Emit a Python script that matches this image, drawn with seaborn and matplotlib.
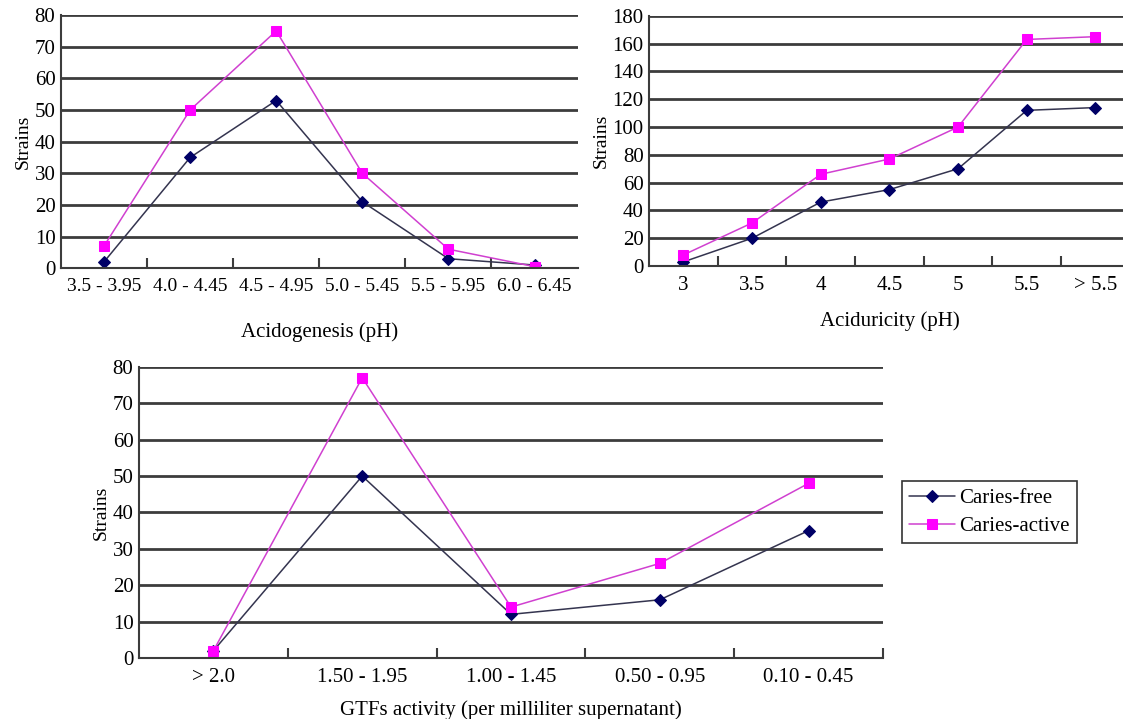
import numpy as np
import pandas as pd
import matplotlib
matplotlib.use("Agg")
import matplotlib.pyplot as plt
import seaborn as sns
from matplotlib.ticker import FixedLocator, MultipleLocator

# ── Data ──────────────────────────────────────────────────────────────────────

acid_cats = ["3.5 - 3.95", "4.0 - 4.45", "4.5 - 4.95", "5.0 - 5.45", "5.5 - 5.95", "6.0 - 6.45"]
acid_free = [2, 35, 53, 21, 3, 1]
acid_active = [7, 50, 75, 30, 6, 0.5]

aciduric_cats = ["3", "3.5", "4", "4.5", "5", "5.5", "> 5.5"]
aciduric_free = [3, 20, 46, 55, 70, 112, 114]
aciduric_active = [8, 31, 66, 77, 100, 163, 165]

gtf_cats = ["> 2.0", "1.50 - 1.95", "1.00 - 1.45", "0.50 - 0.95", "0.10 - 0.45"]
gtf_free = [2, 50, 12, 16, 35]
gtf_active = [2, 77, 14, 26, 48]

SERIES = ["Caries-free", "Caries-active"]

sns.set_theme(style="white")
plt.rcParams["font.family"] = ["Liberation Serif", "DejaVu Serif"]
plt.rcParams["text.color"] = "black"
plt.rcParams["axes.labelcolor"] = "black"
plt.rcParams["xtick.color"] = "black"
plt.rcParams["ytick.color"] = "black"

GRID = "#3c3c3c"
PALETTE = {"Caries-free": "#34344f", "Caries-active": "#d040d0"}
MARKER_COLORS = {"Caries-free": "#000066", "Caries-active": "#ff00ff"}
MARKERS = {"Caries-free": "D", "Caries-active": "s"}


def long_frame(cats, free, active):
    idx = np.arange(len(cats))
    return pd.DataFrame({
        "pos": np.concatenate([idx, idx]),
        "value": list(free) + list(active),
        "group": [SERIES[0]] * len(cats) + [SERIES[1]] * len(cats),
    })


def draw_panel(ax, cats, free, active, ymax, ystep, xlabel,
               xright=None, xfs=15, yfs=15, labelpad=20, end_tick=True):
    df = long_frame(cats, free, active)
    for name in SERIES:
        sub = df[df["group"] == name]
        sns.lineplot(
            data=sub, x="pos", y="value", ax=ax,
            color=PALETTE[name], linewidth=1.1,
            marker=MARKERS[name], markersize=6 if name == SERIES[0] else 7,
            markerfacecolor=MARKER_COLORS[name], markeredgecolor=MARKER_COLORS[name],
            label=name, legend=False,
        )
    n = len(cats)
    ax.set_xlim(-0.5, xright if xright is not None else n - 0.5)
    ax.set_ylim(0, ymax)
    ax.yaxis.set_major_locator(MultipleLocator(ystep))
    ax.set_xticks(np.arange(n))
    ax.set_xticklabels(cats)
    bounds = np.arange(n) + 0.5
    if not end_tick:
        bounds = bounds[:-1]
    ax.xaxis.set_minor_locator(FixedLocator(bounds))
    ax.tick_params(axis="x", which="both", bottom=True)
    ax.tick_params(axis="x", which="major", length=0, labelsize=xfs, pad=7)
    ax.tick_params(axis="x", which="minor", direction="in", length=7, width=1.5, color=GRID)
    ax.tick_params(axis="y", length=0, labelsize=yfs, pad=4)
    ax.yaxis.grid(True, color=GRID, linewidth=2)
    ax.set_axisbelow(True)
    for side in ["top", "right"]:
        ax.spines[side].set_visible(False)
    for side in ["left", "bottom"]:
        ax.spines[side].set_color(GRID)
        ax.spines[side].set_linewidth(1.5)
    ax.set_xlabel(xlabel, fontsize=15, labelpad=labelpad)
    ax.set_ylabel("Strains", fontsize=14, labelpad=2)


fig = plt.figure(figsize=(11.23, 7.19), dpi=100)

ax1 = fig.add_axes([0.0543, 0.627, 0.460, 0.352])
draw_panel(ax1, acid_cats, acid_free, acid_active, 80, 10,
           "Acidogenesis (pH)", xfs=14, yfs=15, labelpad=20, end_tick=False)

ax2 = fig.add_axes([0.578, 0.630, 0.428, 0.348])
draw_panel(ax2, aciduric_cats, aciduric_free, aciduric_active, 180, 20,
           "Aciduricity (pH)", xright=6.5, xfs=15, yfs=15, labelpad=12, end_tick=False)

ax3 = fig.add_axes([0.1238, 0.0848, 0.6625, 0.405])
draw_panel(ax3, gtf_cats, gtf_free, gtf_active, 80, 10,
           "GTFs activity (per milliliter supernatant)", xfs=15, yfs=15, labelpad=10)

handles, labels = ax3.get_legend_handles_labels()
leg = fig.legend(
    handles, labels, loc="upper left",
    bbox_to_anchor=(902 / 1123, 1 - 481 / 719),
    fontsize=15, frameon=True, fancybox=False, framealpha=1,
    edgecolor="#333333", handlelength=2.2, borderpad=0.35, labelspacing=0.4,
    handletextpad=0.2, borderaxespad=0,
)
leg.get_frame().set_linewidth(1.2)

fig.savefig("out.png", dpi=100)
